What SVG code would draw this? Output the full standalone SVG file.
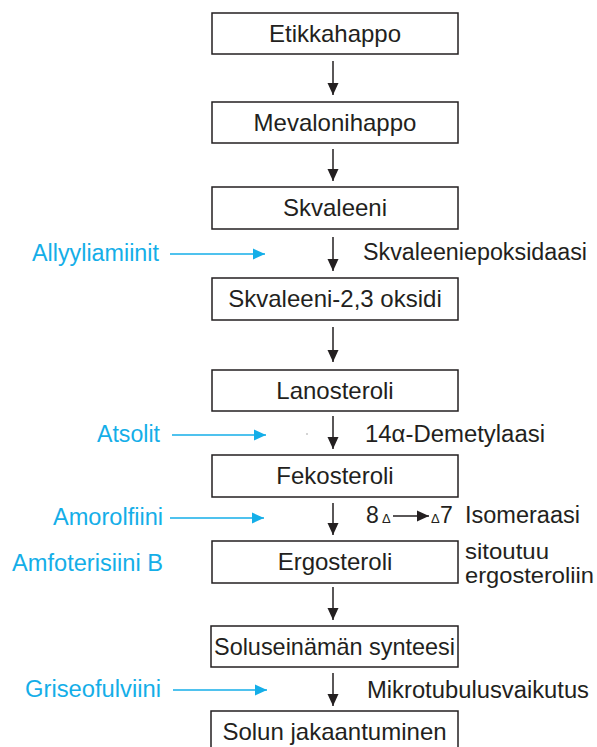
<svg xmlns="http://www.w3.org/2000/svg" width="597" height="747" viewBox="0 0 597 747">
<style>
.box{fill:#fff;stroke:#231f20;stroke-width:1.5}
.t{font-family:"Liberation Sans",Arial,sans-serif;font-size:23px;fill:#231f20}
.c{text-anchor:middle;font-size:24px}
.b{font-family:"Liberation Sans",Arial,sans-serif;font-size:23px;fill:#14aee8}
.k{stroke:#231f20;stroke-width:1.5;fill:none}
.bl{stroke:#14aee8;stroke-width:1.5;fill:none}
.sm{font-family:"Liberation Sans",Arial,sans-serif;font-size:13px;fill:#231f20}
.r2{font-size:22px}
</style>
<defs>
<marker id="ak" markerUnits="userSpaceOnUse" markerWidth="12" markerHeight="14" viewBox="0 0 12 14" refX="12" refY="7" orient="auto"><path d="M0,1.5 L12,7 L0,12.5 Z" fill="#231f20"/></marker>
<marker id="ab" markerUnits="userSpaceOnUse" markerWidth="12" markerHeight="14" viewBox="0 0 12 14" refX="12" refY="7" orient="auto"><path d="M0,1.5 L12,7 L0,12.5 Z" fill="#14aee8"/></marker>
</defs>
<rect width="597" height="747" fill="#fff"/>
<g id="n1"><rect class="box" x="212" y="13" width="246" height="41"/><text class="t c" x="335" y="42">Etikkahappo</text></g>
<g id="n2"><rect class="box" x="212" y="102" width="246" height="41"/><text class="t c" x="335" y="131">Mevalonihappo</text></g>
<g id="n3"><rect class="box" x="212" y="187" width="246" height="42"/><text class="t c" x="335" y="216">Skvaleeni</text></g>
<g id="n4"><rect class="box" x="212" y="278" width="246" height="42"/><text class="t c" x="335" y="307">Skvaleeni-2,3 oksidi</text></g>
<g id="n5"><rect class="box" x="212" y="370" width="246" height="41"/><text class="t c" x="335" y="399">Lanosteroli</text></g>
<g id="n6"><rect class="box" x="212" y="455" width="246" height="42"/><text class="t c" x="335" y="484">Fekosteroli</text></g>
<g id="n7"><rect class="box" x="212" y="541" width="246" height="42"/><text class="t c" x="335" y="570">Ergosteroli</text></g>
<g id="n8"><rect class="box" x="211" y="626" width="247" height="41"/><text class="t c" x="334.5" y="655" textLength="241" lengthAdjust="spacingAndGlyphs">Soluseinämän synteesi</text></g>
<g id="n9"><rect class="box" x="211" y="711" width="247" height="42"/><text class="t c" x="334.5" y="740">Solun jakaantuminen</text></g>
<g id="connectors">
<line class="k" x1="333" y1="61" x2="333" y2="95" marker-end="url(#ak)"/>
<line class="k" x1="333" y1="149" x2="333" y2="181" marker-end="url(#ak)"/>
<line class="k" x1="333" y1="237" x2="333" y2="271" marker-end="url(#ak)"/>
<line class="k" x1="333" y1="327" x2="333" y2="362" marker-end="url(#ak)"/>
<line class="k" x1="333" y1="416" x2="333" y2="449" marker-end="url(#ak)"/>
<line class="k" x1="333" y1="503" x2="333" y2="535" marker-end="url(#ak)"/>
<line class="k" x1="333" y1="587" x2="333" y2="620" marker-end="url(#ak)"/>
<line class="k" x1="333" y1="673" x2="333" y2="706" marker-end="url(#ak)"/>
<line class="bl" x1="170" y1="254" x2="265" y2="254" marker-end="url(#ab)"/>
<line class="bl" x1="172" y1="435" x2="266" y2="435" marker-end="url(#ab)"/>
<line class="bl" x1="170" y1="518" x2="264" y2="518" marker-end="url(#ab)"/>
<line class="bl" x1="173" y1="690" x2="267" y2="690" marker-end="url(#ab)"/>
<line class="k" x1="393" y1="516" x2="429" y2="516" marker-end="url(#ak)"/>
</g>
<g id="inhibitors">
<text class="b" x="32" y="261" textLength="127" lengthAdjust="spacingAndGlyphs">Allyyliamiinit</text>
<text class="b" x="97" y="442" textLength="63" lengthAdjust="spacingAndGlyphs">Atsolit</text>
<text class="b" x="53" y="525" textLength="110" lengthAdjust="spacingAndGlyphs">Amorolfiini</text>
<text class="b" x="12" y="571" textLength="151" lengthAdjust="spacingAndGlyphs">Amfoterisiini B</text>
<text class="b" x="25" y="697" textLength="136" lengthAdjust="spacingAndGlyphs">Griseofulviini</text>
</g>
<g id="labels">
<text class="t" x="363" y="260" textLength="224" lengthAdjust="spacingAndGlyphs">Skvaleeniepoksidaasi</text>
<text class="t" x="365" y="442" textLength="180" lengthAdjust="spacingAndGlyphs">14α-Demetylaasi</text>
<text class="t" x="366" y="523">8</text>
<text class="sm" x="382" y="523">Δ</text>
<text class="sm" x="431" y="523">Δ</text>
<text class="t" x="440" y="523">7</text>
<text class="t" x="465" y="523" textLength="115" lengthAdjust="spacingAndGlyphs">Isomeraasi</text>
<text class="t r2" x="465" y="559" textLength="84" lengthAdjust="spacingAndGlyphs">sitoutuu</text>
<text class="t r2" x="465" y="583" textLength="129" lengthAdjust="spacingAndGlyphs">ergosteroliin</text>
<text class="t" x="367" y="698" textLength="222" lengthAdjust="spacingAndGlyphs">Mikrotubulusvaikutus</text>
<circle cx="307" cy="434" r="0.7" fill="#888"/>
</g>
</svg>
